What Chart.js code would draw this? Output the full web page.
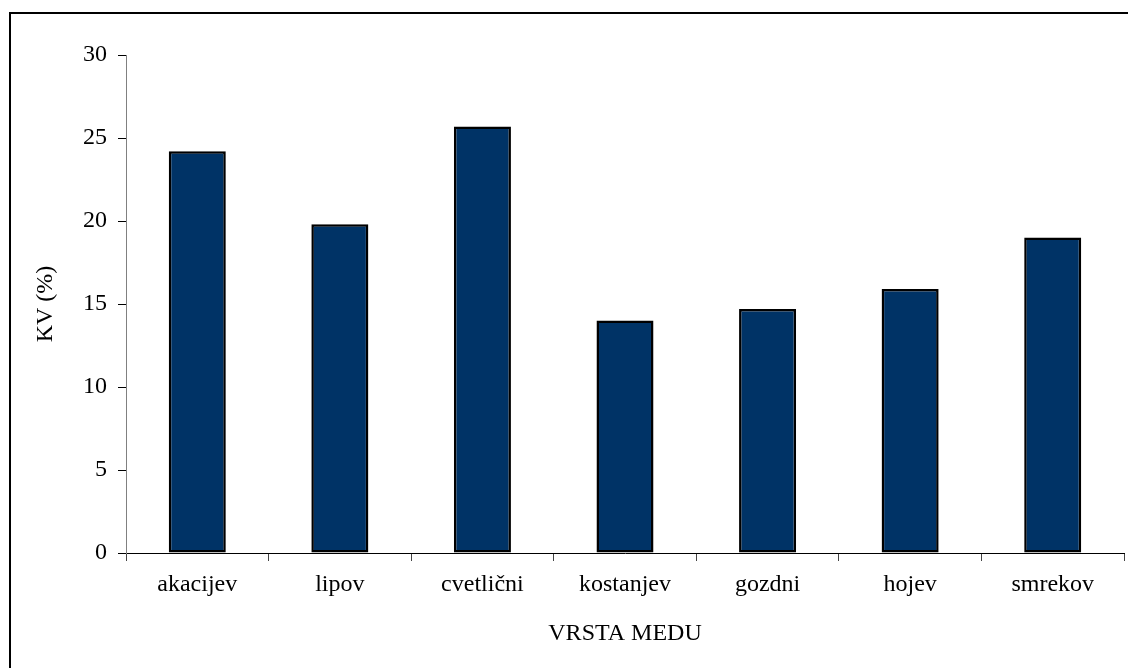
<!DOCTYPE html>
<html>
<head>
<meta charset="utf-8">
<title>KV (%) po vrsti medu</title>
<script src="https://cdn.jsdelivr.net/npm/chart.js@4/dist/chart.umd.min.js"></script>
<style>
  html, body { margin: 0; padding: 0; background: #fff; overflow: hidden; }
  #wrap { position: relative; width: 1128px; height: 668px; }
  #chart { position: absolute; left: 0; top: 0; }
  /* frame around the chart object (left and top edges visible) */
  #frame {
    position: absolute; left: 9px; top: 12px; width: 1200px; height: 720px;
    border-left: 2px solid #000; border-top: 2px solid #000;
    pointer-events: none;
  }
</style>
</head>
<body>
<div id="wrap">
  <canvas id="chart" width="1128" height="668"></canvas>
  <div id="frame"></div>
</div>
<script>
// Honey types and their coefficient of variation (%)
const honeyTypes = ['akacijev', 'lipov', 'cvetlični', 'kostanjev', 'gozdni', 'hojev', 'smrekov'];
const kvValues = [24.2, 19.8, 25.7, 14.0, 14.7, 15.9, 19.0];
const yTicks = [0, 5, 10, 15, 20, 25, 30];
const xTitle = 'VRSTA MEDU';
const yTitle = 'KV (%)';

Chart.defaults.font.family = "'Liberation Serif', 'Times New Roman', serif";
Chart.defaults.font.size = 24;
Chart.defaults.color = '#000';

new Chart(document.getElementById('chart'), {
  type: 'bar',
  data: {
    labels: honeyTypes,
    datasets: [{
      data: kvValues,
      backgroundColor: '#003366',
      borderColor: '#000',
      borderWidth: 2.5,
      borderSkipped: false,
      inflateAmount: 0,
      categoryPercentage: 1.0,
      barPercentage: 0.4
    }]
  },
  options: {
    responsive: false,
    animation: false,
    devicePixelRatio: 1,
    layout: { padding: { left: 0, top: 55, right: 4, bottom: 0 } },
    plugins: {
      legend: { display: false },
      tooltip: { enabled: false }
    },
    scales: {
      x: {
        offset: true,
        grid: {
          offset: true,
          drawOnChartArea: false,
          drawTicks: true,
          tickLength: 8,
          color: '#444',
          lineWidth: 1
        },
        border: { display: true, color: '#000', width: 1 },
        ticks: { padding: 9, color: '#000', font: { size: 24 } },
        title: {
          display: true,
          text: xTitle,
          color: '#000',
          font: { size: 24 },
          padding: { top: 0, bottom: 20 }
        },
        afterFit: (scale) => { scale.height = 115; }
      },
      y: {
        min: 0,
        max: 30,
        afterBuildTicks: (scale) => { scale.ticks = yTicks.map(v => ({ value: v })); },
        grid: {
          drawOnChartArea: false,
          drawTicks: true,
          tickLength: 8,
          color: '#000',
          lineWidth: 1
        },
        border: { display: true, color: '#808080', width: 1 },
        ticks: { padding: 11, color: '#000', font: { size: 24 } },
        title: {
          display: true,
          text: yTitle,
          color: '#000',
          font: { size: 24 },
          padding: { top: 31, bottom: 0 }
        },
        afterFit: (scale) => { scale.width = 126; }
      }
    }
  }
});
</script>
</body>
</html>
